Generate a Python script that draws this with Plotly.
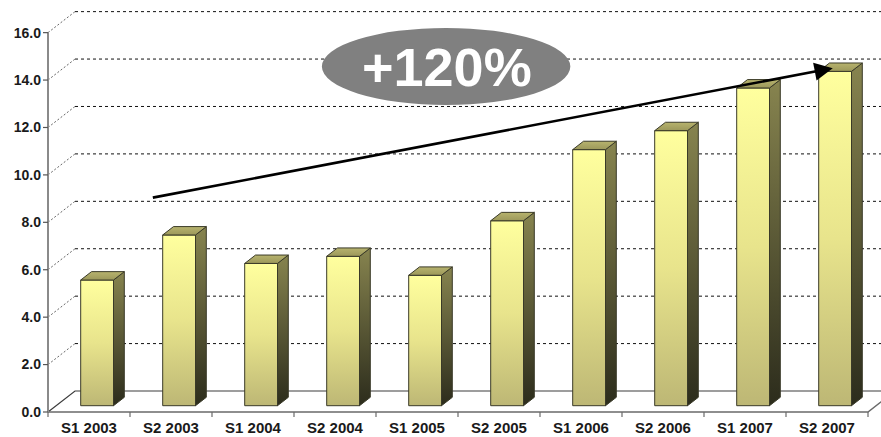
import plotly.graph_objects as go

# Half-year figures
periods = ["S1 2003", "S2 2003", "S1 2004", "S2 2004", "S1 2005",
           "S2 2005", "S1 2006", "S2 2006", "S1 2007", "S2 2007"]
values = [5.3, 7.2, 6.0, 6.3, 5.5, 7.8, 10.8, 11.6, 13.4, 14.1]
y_ticks = [0, 2, 4, 6, 8, 10, 12, 14, 16]
growth_label = "+120%"

# Oblique-projection geometry (data units)
PX_PER_CAT = 82.0
PX_PER_UNIT = 23.71
DX = 27 / PX_PER_CAT          # depth shift along x
DY = 21 / PX_PER_UNIT         # depth shift along y
Z0, Z1 = 0.3, 0.7             # bar depth band (fraction of floor depth)
HALF_W = 0.2                  # half bar width (category units)
N = len(periods)

X0 = -0.5
X_END = N - 0.5
x_range = [(42 - 48) / PX_PER_CAT - 0.5, (881 - 48) / PX_PER_CAT - 0.5]
y_range = [(412 - 420) / PX_PER_UNIT, 412 / PX_PER_UNIT]

fig = go.Figure()


def add_line(xs, ys, color, width, dash="solid"):
    fig.add_trace(go.Scatter(x=xs, y=ys, mode="lines",
                             line=dict(color=color, width=width, dash=dash),
                             hoverinfo="skip", showlegend=False))


# back-wall gridlines
gx, gy = [], []
for v in y_ticks[1:]:
    gx += [X0 + DX, X_END + DX + 1, None]
    gy += [v + DY, v + DY, None]
add_line(gx, gy, "#111111", 1, "3px,3px")

# side-wall gridlines
sx, sy = [], []
for v in y_ticks[1:]:
    sx += [X0, X0 + DX, None]
    sy += [v, v + DY, None]
add_line(sx, sy, "#666666", 1, "2px,2px")

# floor outline
add_line([X0, X0 + DX, X_END + DX + 1], [0, DY, DY], "#3c3c3c", 1.2)
add_line([X0, X_END, X_END + DX], [0, 0, DY], "#6a6a6a", 1.5)

# category boundary ticks
tx, ty = [], []
for k in range(N + 1):
    tx += [X0 + k, X0 + k, None]
    ty += [0, -5 / PX_PER_UNIT, None]
add_line(tx, ty, "#6a6a6a", 1.2)

# value axis line and ticks
add_line([X0, X0], [0, 16], "#8a8a8a", 2)
vx, vy = [], []
for v in y_ticks:
    vx += [X0 - 5 / PX_PER_CAT, X0, None]
    vy += [v, v, None]
add_line(vx, vy, "#555555", 1.2)


def face(xs, ys, scale):
    fig.add_trace(go.Scatter(
        x=xs + [xs[0]], y=ys + [ys[0]], mode="lines", fill="toself",
        fillgradient=dict(type="vertical", colorscale=scale),
        line=dict(color="#3a3a28", width=1),
        hoverinfo="skip", showlegend=False))


front_scale = [[0, "#bdb775"], [0.5, "#e8e48c"], [1, "#ffff9e"]]
side_scale = [[0, "#2c2c1c"], [1, "#87844f"]]
top_scale = [[0, "#9c985a"], [1, "#b7b36e"]]

for i, v in enumerate(values):
    xl = i - HALF_W + Z0 * DX
    xr = i + HALF_W + Z0 * DX
    dd = (Z1 - Z0) * DX
    yb0, yb1 = Z0 * DY, Z1 * DY
    face([xl, xr, xr, xl], [yb0, yb0, v + yb0, v + yb0], front_scale)
    face([xr, xr + dd, xr + dd, xr], [yb0, yb1, v + yb1, v + yb0], side_scale)
    face([xl, xr, xr + dd, xl + dd], [v + yb0, v + yb0, v + yb1, v + yb1], top_scale)

# growth arrow
fig.add_annotation(x=9.07, y=14.5, ax=0.76, ay=9.03,
                   xref="x", yref="y", axref="x", ayref="y",
                   text="", showarrow=True, arrowhead=2, arrowsize=1.4,
                   arrowwidth=2.6, arrowcolor="#000000")

# growth badge
fig.add_shape(type="circle", xref="x", yref="y",
              x0=2.84, x1=5.87, y0=12.95, y1=16.2,
              fillcolor="#808080", line=dict(width=0), layer="above")
fig.add_annotation(x=4.36, y=14.55, xref="x", yref="y", text=growth_label,
                   showarrow=False,
                   font=dict(family="Liberation Sans, Arial", size=54,
                             color="#ffffff", weight="bold"))

fig.update_layout(
    width=881, height=437,
    margin=dict(l=42, r=0, t=0, b=17, autoexpand=False),
    paper_bgcolor="#ffffff", plot_bgcolor="#ffffff",
    hovermode=False,
    xaxis=dict(range=x_range, tickmode="array", automargin=False,
               tickvals=list(range(N)), ticktext=periods,
               ticklabelstandoff=-3,
               ticks="", showgrid=False, zeroline=False, showline=False,
               tickfont=dict(family="Liberation Sans, Arial", size=15,
                             color="#1a1a1a", weight="bold")),
    yaxis=dict(range=y_range, tickmode="array", tickvals=y_ticks,
               automargin=False,
               ticktext=[f"{v:.1f}" for v in y_ticks],
               ticks="", showgrid=False, zeroline=False, showline=False,
               tickfont=dict(family="Liberation Sans, Arial", size=14,
                             color="#1a1a1a", weight="bold")),
)

fig.write_html("out.html")
